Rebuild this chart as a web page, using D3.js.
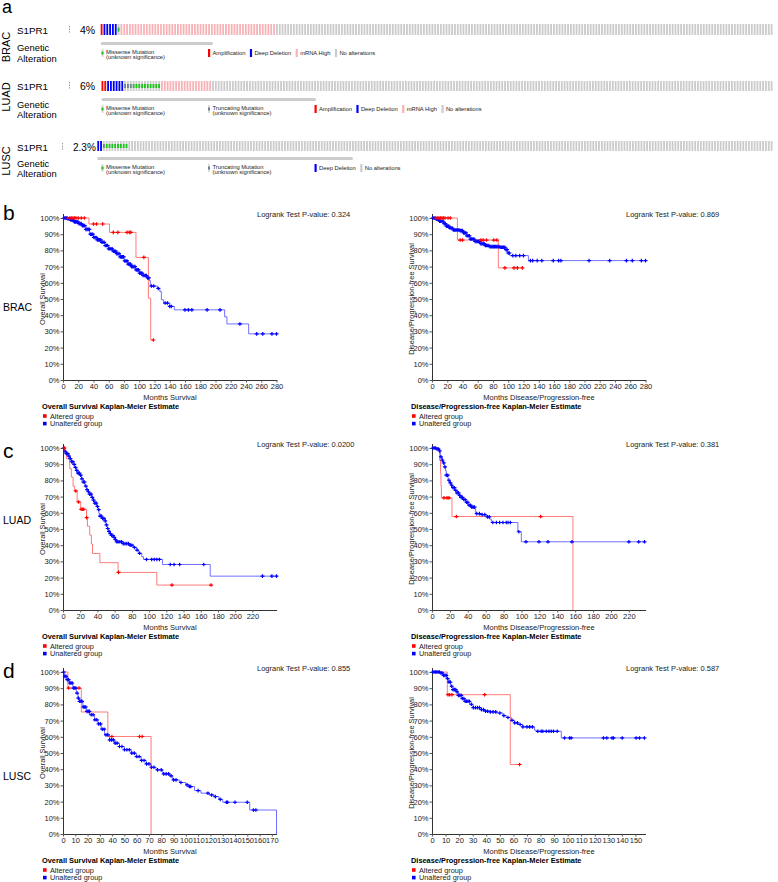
<!DOCTYPE html>
<html>
<head>
<meta charset="utf-8">
<script src="https://cdn.jsdelivr.net/npm/d3@7"></script>
<style>
  body { margin: 0; background: #fff; }
  text { font-family: "Liberation Sans", Arial, sans-serif; }
</style>
</head>
<body>
<div id="chart"></div>
<script>
// ---- oncoprint tracks: [alteration type, number of samples] ----
const bracTrack = [["amp", 1], ["del", 5], ["mis", 1], ["mrna", 55], ["none", 176]];
const luadTrack = [["amp", 2], ["del", 6], ["trunc", 3], ["mis", 10], ["mrna", 18], ["none", 198]];
const luscTrack = [["del", 2], ["trunc", 1], ["mis", 8], ["none", 228]];
const bracLegend = ["mis", "amp", "del", "mrna", "none"];
const luadLegend = ["mis", "trunc", "amp", "del", "mrna", "none"];
const luscLegend = ["mis", "trunc", "del", "none"];

// ---- survival data: [months, survival %] steps and censor months ----
const pctTicks = [0, 10, 20, 30, 40, 50, 60, 70, 80, 90, 100];
const ticks280 = [0, 20, 40, 60, 80, 100, 120, 140, 160, 180, 200, 220, 240, 260, 280];
const ticks220 = [0, 20, 40, 60, 80, 100, 120, 140, 160, 180, 200, 220];
const ticks170 = [0, 10, 20, 30, 40, 50, 60, 70, 80, 90, 100, 110, 120, 130, 140, 150, 160, 170];
const ticks150 = [0, 10, 20, 30, 40, 50, 60, 70, 80, 90, 100, 110, 120, 130, 140, 150];

const bracOsAlt = [[0,100],[34,96.3],[61,91.1],[95.7,75.7],[112,50.5],[115,24.7]];
const bracOsAltCens = [6,9,11,13,15,17,20,24,28,40,44,52,66,72,84,87,89,106,118.5];
const bracOsUnalt = [[0,100],[5,99.5],[10,98.6],[15,97.6],[20,96.5],[25,95.3],[30,93],[35,90],[40,88],[45,86.5],[50,85],[55,83],[60,81],[65,79.5],[70,78],[75,76],[80,73.5],[85,71.5],[90,70],[95,68],[100,66],[105,64.5],[110,63],[113,61.5],[114.5,58],[124,56.5],[127,54.6],[129,49.5],[132,47.5],[140,45.4],[146,43.3],[212,39],[215,34.6],[243.5,28.5]];
const bracOsUnaltCens = [1.5,3,4.5,6,7.5,9,10.5,12,13.5,15,16.5,18,19.5,21,22.5,24,25.5,27,28.5,30,31.5,33,34.5,36,37.5,39,40.5,42,43.5,45,46.5,48,49.5,51,52.5,54,55.5,57,58.5,60,61.5,63,64.5,66,67.5,69,70.5,72,73.5,75,76.5,78,79.5,81,82.5,84,85.5,87,88.5,90,91.5,93,94.5,96,97.5,99,100.5,102,103.5,105,106.5,108,109.5,111,112.5,116,119,125,134,137,140,142,160,164.5,169,189,206,232,254,262,274,280];

const bracDfsAlt = [[0,100],[33.3,86.4],[87,69.2]];
const bracDfsAltCens = [5,7,9,11,13,15,17,21,24,37,40,64,67,71.5,81,85,95.6,107.5,112,118.5];
const bracDfsUnalt = [[0,100],[5,99.3],[10,98],[15,96.5],[19,95],[23,93.8],[27.6,92.6],[36,92.2],[41,90.8],[45,89],[49.6,87],[56,85.6],[62.7,84.2],[69,83],[75.9,82.3],[89,81.9],[95.6,80.5],[98.7,78.4],[102,76.8],[126.4,73.7]];
const bracDfsUnaltCens = [1,2.5,4,5.5,7,8.5,10,11.5,13,14.5,16,17.5,19,20.5,22,23.5,25,26.5,28,29.5,31,32.5,34,35.5,37,38.5,40,41.5,43,44.5,46,47.5,49,50.5,52,53.5,55,56.5,58,59.5,61,62.5,64,65.5,67,68.5,70,71.5,73,74.5,76,77.5,79,80.5,82,83.5,85,86.5,88,89.5,91,92.5,94,95.5,97,98.5,100,101.5,106,110,115,120,129,132,138,144,159,166,169,206,233,255,262.7,274.6,280];

const luadOsAlt = [[0,100],[2,96.9],[4,93.4],[7.8,87.3],[9.7,82],[11.7,76.4],[13.6,73.5],[16.4,66.7],[20.6,62.2],[27.3,57],[28.4,51.7],[31,46.2],[33,40.7],[34.3,34.9],[42.8,29.2],[64,23.2],[109,15.4]];
const luadOsAltCens = [1.5,14.8,18,21,22.5,24,27.5,64.5,126.5,172];
const luadOsUnalt = [[0,100],[2,98],[3.9,96.5],[6,95],[7.8,93.4],[10,91.5],[11.7,89.9],[13.5,88],[15.6,86.2],[17.5,84.5],[19.5,83.2],[21.5,81],[23.4,79],[25.5,76.5],[27.3,74.3],[29,73],[31,71.5],[33,69.5],[35,67.8],[37,66],[39,64],[40.5,62],[41.7,59.5],[43,58],[44.8,56.5],[48.7,55],[50,52.5],[51.4,50.3],[53,48.5],[54.5,47.2],[56.5,46],[58.4,44.8],[60.5,43.5],[62.3,42.1],[70,41],[77.9,40],[81.8,38.6],[85.7,37],[88,35],[91.5,32.9],[93.5,31.2],[115.6,28.1],[171,20.9]];
const luadOsUnaltCens = [1,2.5,4,5.5,7,8.5,10,11.5,13,14.5,16,17.5,19,20.5,22,23.5,25,26.5,28,29.5,31,32.5,34,35.5,37,38.5,40,41.5,43,44.5,46,47.5,49,50.5,52,53.5,55,56.5,58,59.5,61,62.5,64,66,68,70,72,74,76,78,80,83,86,89,97,103,106,109,112,124.6,129,135.5,163.5,231.7,242.6,248];

const luadDfsAlt = [[0,100],[8.5,92.3],[9.5,84.6],[10,76.9],[10.5,69.2],[22.3,57.7],[157.5,0]];
const luadDfsAltCens = [13.4,16.8,19,27.2,121.4];
const luadDfsUnalt = [[0,100],[4.8,99.4],[7.8,98.2],[9.3,94.5],[11,92.5],[12.3,90.8],[14.1,88.3],[15,86],[16,83.2],[17.9,80.1],[19.5,78.5],[21.6,77],[23.5,75.5],[25.3,73.9],[28,72.3],[30.9,70.8],[32.5,69.5],[34.6,68.2],[37.5,66.5],[40.2,64.7],[44,63.5],[47.7,62.6],[48.8,59.5],[55,58.9],[60.7,57.5],[64.4,56.1],[66.3,54],[96,48.3],[99.8,42.1]];
const luadDfsUnaltCens = [1,2.5,4,5.5,7,8.5,10,11.5,13,14.5,16,17.5,19,20.5,22,23.5,25,26.5,28,29.5,31,32.5,34,35.5,37,38.5,40,41.5,43,44.5,46,47.5,50,53,56,59,62,64,68,72,75.6,79.3,83,85,87.5,97,105,119.5,129.6,156.4,220,231,237.5];

const luscOsAlt = [[0,100],[4,90.1],[14.9,75.3],[36.5,60.2],[71.7,0]];
const luscOsAltCens = [4.5,13,39.8,62.3,64.4];
const luscOsUnalt = [[0,100],[1.35,97.3],[2.7,95.3],[5.4,93.2],[8.1,90.1],[10.8,87],[12.2,83.9],[13.5,81.9],[16.2,78.4],[18.9,75.7],[21.7,73.6],[25.7,70.5],[28.4,68],[31.1,64.7],[33.8,61.2],[37.9,58.1],[42,56.1],[46,54],[50,52],[55.5,49.9],[59.6,47.8],[63.6,45.4],[67.7,43.3],[71.7,41.2],[75.8,39.6],[81.2,37.1],[86.6,35.9],[89.3,33.4],[94.7,31.8],[100,30.3],[102.9,29.3],[107,26.8],[112.3,25.2],[119,24.1],[123,23.1],[127,21.4],[130,19.6],[152,14.8],[173.8,0]];
const luscOsUnaltCens = [0.5,1.5,2.5,3.5,4.5,5.5,6.5,7.5,8.5,9.5,10.5,11.5,12.5,13.5,14.5,15.5,16.5,17.5,18.5,19.5,20.5,21.5,23,24.5,26,27.5,29,30.5,32,33.5,35,36.5,38,39.5,41,42.5,44,46,48,50,52,54,56,58,60,62,64,66,68,70,72,74,77,80,82,84,86,88,90,92,96,101,103,104,110,118,121,124,128,133,134,140,150,155,157];

const luscDfsAlt = [[0,100],[11.3,86],[57.7,42.9]];
const luscDfsAltCens = [11.8,13,14.7,38.8,64.6];
const luscDfsUnalt = [[0,100],[5.6,99.4],[8.1,97.9],[10.6,95.9],[12.5,93.8],[13.7,91.2],[15.5,89.1],[17.9,87.7],[19.2,85.6],[21.6,83.6],[24,81.9],[27.7,80.1],[30.2,78],[35.1,76.8],[38.8,75.8],[42.5,75.4],[47.4,74.7],[52.3,73.1],[54.8,71.9],[58.4,70.2],[60.9,68.6],[63.3,67.6],[67,66.1],[75.6,64.1],[76.8,63.4],[95.3,59.3]];
const luscDfsUnaltCens = [0.5,1.5,2.5,3.5,4.5,5.5,6.5,7.5,8.5,9.5,10.5,11.5,12.5,13.5,14.5,15.5,16.5,17.5,18.5,19.5,20.5,21.5,22.5,23.5,24.5,25.5,26.5,27.5,29,30.5,32,33.5,35,36.5,38,39.5,41,43,45,47,50,53,56,59,61,63,65,67,70,72,74,78,80.5,81.7,84.2,86.2,87.9,89.6,92.3,97.7,101.4,102.6,126.4,128.9,132.8,133.8,140.2,150.5,153,156.6];

// ---- drawing ----
const W = 778, H = 882;
const svg = d3.select("#chart").append("svg").attr("width", W).attr("height", H);

const colors = { amp: "#ff0000", del: "#0000ff", mrna: "#f7b3b7", none: "#cbcbcb", mis: "#1cc41c", trunc: "#708090" };
const legendNames = {
  mis: ["Missense Mutation", "(unknown significance)"],
  trunc: ["Truncating Mutation", "(unknown significance)"],
  amp: ["Amplification"], del: ["Deep Deletion"], mrna: ["mRNA High"], none: ["No alterations"]
};

svg.append("text").attr("x", 2).attr("y", 13).attr("font-size", 18).text("a");

const oncoRows = [
  { name: "BRAC", pct: "4%", pctX: 80, track: bracTrack, legend: bracLegend, top: 24, h: 11, start: 100.7, labelY: 34, genY: 51.5, sideY: 47, barEnd: 213, lineY: 42, legY: 49 },
  { name: "LUAD", pct: "6%", pctX: 80, track: luadTrack, legend: luadLegend, top: 81, h: 10, start: 101.5, labelY: 90, genY: 108, sideY: 97, barEnd: 316, lineY: 98, legY: 105 },
  { name: "LUSC", pct: "2.3%", pctX: 73, track: luscTrack, legend: luscLegend, top: 141, h: 10, start: 97.3, labelY: 151, genY: 167, sideY: 161, barEnd: 353, lineY: 157, legY: 164 }
];

oncoRows.forEach(r => {
  const g = svg.append("g");
  g.append("text").attr("transform", `translate(10,${r.sideY}) rotate(-90)`)
    .attr("text-anchor", "middle").attr("font-size", 11).text(r.name);
  g.append("text").attr("x", 17).attr("y", r.labelY).attr("font-size", 9.8).text("S1PR1");
  g.append("text").attr("x", 17).attr("y", r.genY - 0.2).attr("font-size", 9.4).text("Genetic");
  g.append("text").attr("x", 17).attr("y", r.genY + 10.2).attr("font-size", 9.4).text("Alteration");
  g.selectAll(".dot").data([0, 1, 2]).join("rect")
    .attr("x", r.pctX - 11).attr("y", d => r.labelY - 8 + d * 2.6).attr("width", 1).attr("height", 1.4).attr("fill", "#999");
  g.append("text").attr("x", r.pctX).attr("y", r.labelY).attr("font-size", r.pct.length > 2 ? 10 : 10.5).text(r.pct);

  // expand track into samples
  const samples = [];
  r.track.forEach(([type, n]) => { for (let i = 0; i < n; i++) samples.push(type); });
  const x = d3.scaleBand().domain(d3.range(samples.length)).range([r.start, 772.5]).paddingInner(0.36);
  g.selectAll(".bar").data(samples).join("rect")
    .attr("x", (d, i) => x(i)).attr("y", r.top).attr("width", x.bandwidth()).attr("height", r.h)
    .attr("fill", d => (d === "mis" || d === "trunc") ? colors.none : colors[d]);
  g.selectAll(".mut").data(samples.map((d, i) => [d, i]).filter(d => d[0] === "mis" || d[0] === "trunc")).join("rect")
    .attr("x", d => x(d[1])).attr("y", r.top + r.h / 2 - 2).attr("width", x.bandwidth()).attr("height", 4)
    .attr("fill", d => colors[d[0]]);

  g.append("rect").attr("x", r.start).attr("y", r.lineY).attr("width", r.barEnd - r.start).attr("height", 3)
    .attr("rx", 1.5).attr("fill", "#cccccc");

  // legend
  let cx = 101.5;
  r.legend.forEach(k => {
    const mut = k === "mis" || k === "trunc";
    if (mut) {
      g.append("rect").attr("x", cx).attr("y", r.legY).attr("width", 2).attr("height", 8).attr("fill", "#dcdcdc");
      g.append("rect").attr("x", cx).attr("y", r.legY + 2.5).attr("width", 2).attr("height", 3).attr("fill", colors[k]);
    } else {
      g.append("rect").attr("x", cx).attr("y", r.legY).attr("width", 2.2).attr("height", 8).attr("fill", colors[k]);
    }
    const lines = legendNames[k];
    let w = 0;
    lines.forEach((t, j) => {
      const tx = g.append("text").attr("x", cx + 4.5)
        .attr("y", lines.length > 1 ? r.legY + 4.5 + j * 5.5 : r.legY + 6)
        .attr("font-size", 5.8).attr("fill", "#222").text(t);
      w = Math.max(w, tx.node().getComputedTextLength());
    });
    cx += mut ? 106.5 : 4.5 + w + 4.5;
  });
});

// ---- Kaplan-Meier panels ----
const panels = [
  { letter: "b", side: "BRAC", sideY: 311, col: 0, top: 218, bottom: 380, max: 280, ticks: ticks280, os: true, p: "0.324", alt: bracOsAlt, altC: bracOsAltCens, un: bracOsUnalt, unC: bracOsUnaltCens },
  { col: 1, top: 218, bottom: 380, max: 280, ticks: ticks280, os: false, p: "0.869", alt: bracDfsAlt, altC: bracDfsAltCens, un: bracDfsUnalt, unC: bracDfsUnaltCens },
  { letter: "c", side: "LUAD", sideY: 524, col: 0, top: 448, bottom: 610, max: 248, ticks: ticks220, os: true, p: "0.0200", alt: luadOsAlt, altC: luadOsAltCens, un: luadOsUnalt, unC: luadOsUnaltCens },
  { col: 1, top: 448, bottom: 610, max: 238.6, ticks: ticks220, os: false, p: "0.381", alt: luadDfsAlt, altC: luadDfsAltCens, un: luadDfsUnalt, unC: luadDfsUnaltCens },
  { letter: "d", side: "LUSC", sideY: 780, col: 0, top: 672, bottom: 834, max: 173.8, ticks: ticks170, os: true, p: "0.855", alt: luscOsAlt, altC: luscOsAltCens, un: luscOsUnalt, unC: luscOsUnaltCens },
  { col: 1, top: 672, bottom: 834, max: 157.4, ticks: ticks150, os: false, p: "0.587", alt: luscDfsAlt, altC: luscDfsAltCens, un: luscDfsUnalt, unC: luscDfsUnaltCens }
];

const survAt = (steps, t) => steps[Math.max(0, d3.bisector(d => d[0]).right(steps, t) - 1)][1];

panels.forEach(p => {
  const x0 = p.col === 0 ? 63 : 432;
  const x = d3.scaleLinear().domain([0, p.max]).range([x0, x0 + 213.5]);
  const y = d3.scaleLinear().domain([0, 100]).range([p.bottom, p.top]);
  const g = svg.append("g");

  if (p.letter) {
    g.append("text").attr("x", 3).attr("y", p.top + (p.letter === "b" ? 2 : p.letter === "c" ? 10 : 6))
      .attr("font-size", 21).text(p.letter);
    g.append("text").attr("x", 3).attr("y", p.sideY).attr("font-size", 10.5).text(p.side);
  }

  const yAxis = g.append("g").attr("transform", `translate(${x0},0)`)
    .call(d3.axisLeft(y).tickValues(pctTicks).tickFormat(d => d + "%").tickSize(2.5).tickSizeOuter(0).tickPadding(1));
  const xAxis = g.append("g").attr("transform", `translate(0,${p.bottom})`)
    .call(d3.axisBottom(x).tickValues(p.ticks).tickSize(2.5).tickSizeOuter(0).tickPadding(1.5));
  [yAxis, xAxis].forEach(a => {
    a.selectAll("text").attr("font-size", 7.5).attr("fill", "#222").attr("font-family", "Liberation Sans, Arial, sans-serif");
    a.selectAll("line").attr("stroke", "#555");
    a.select(".domain").attr("stroke", "#333");
  });
  g.append("line").attr("x1", x0 + 0.5).attr("x2", x0 + 0.5).attr("y1", p.top - 4).attr("y2", p.top).attr("stroke", "#333");

  g.append("text").attr("transform", `translate(${x0 - 18},${(p.top + p.bottom) / 2}) rotate(-90)`)
    .attr("text-anchor", "middle").attr("font-size", 7.4).attr("fill", "#222")
    .text(p.os ? "Overall Survival" : "Disease/Progression-free Survival");
  g.append("text").attr("x", x0 + 107).attr("y", p.bottom + 19.5).attr("text-anchor", "middle")
    .attr("font-size", 7.5).attr("fill", "#222").text(p.os ? "Months Survival" : "Months Disease/Progression-free");
  g.append("text").attr("x", x0 + 194).attr("y", p.top - 1).attr("font-size", 7.5).attr("fill", "#222")
    .text("Logrank Test P-value: " + p.p);

  const line = d3.line().x(d => x(d[0])).y(d => y(d[1])).curve(d3.curveStepAfter);
  const curve = (steps, cens) => {
    const last = steps[steps.length - 1];
    const end = Math.max(last[0], d3.max(cens));
    return steps.concat([[end, last[1]]]);
  };
  const groups = [
    { steps: p.un, cens: p.unC, line: "#4d4dff", mark: "#0000ff" },
    { steps: p.alt, cens: p.altC, line: "#ff5a5a", mark: "#ff0000" }
  ];
  groups.forEach(s => {
    g.append("path").attr("d", line(curve(s.steps, s.cens))).attr("fill", "none")
      .attr("stroke", s.line).attr("stroke-opacity", 0.8).attr("stroke-width", 1);
  });
  groups.forEach(s => {
    g.selectAll(null).data(s.cens).join("path")
      .attr("transform", t => `translate(${x(t)},${y(survAt(s.steps, t))})`)
      .attr("d", "M-2,0H2M0,-1.8V1.8").attr("stroke", s.mark).attr("stroke-width", 1.2);
  });

  // legend block
  const lx = p.col === 0 ? 42 : 411;
  g.append("text").attr("x", lx).attr("y", p.bottom + 29).attr("font-size", 7.4).attr("font-weight", "bold")
    .text(p.os ? "Overall Survival Kaplan-Meier Estimate" : "Disease/Progression-free Kaplan-Meier Estimate");
  [["Altered group", "#ff0000"], ["Unaltered group", "#0000ff"]].forEach(([t, c], i) => {
    const cy = p.bottom + 36 + i * 7.6;
    g.append("rect").attr("x", lx + 1).attr("y", cy - 1.8).attr("width", 3.6).attr("height", 3.6).attr("fill", c);
    g.append("text").attr("x", lx + 8).attr("y", cy + 2.6).attr("font-size", 7.3).attr("fill", "#222").text(t);
  });
});
</script>
</body>
</html>
